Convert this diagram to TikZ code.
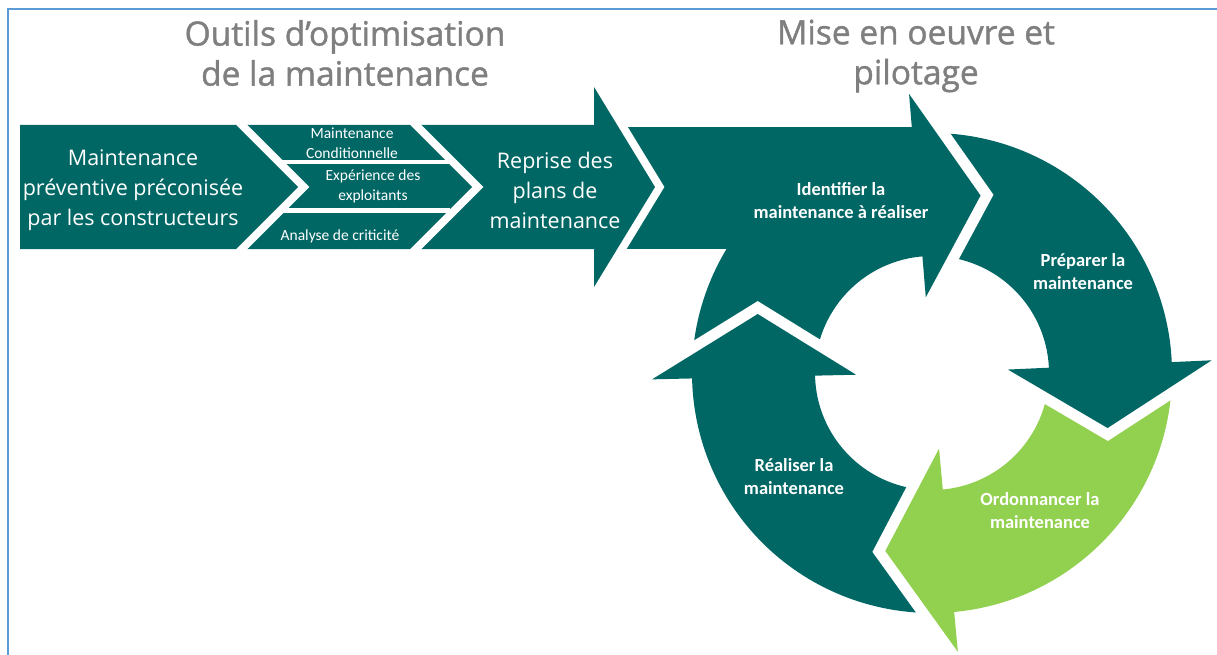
\documentclass[tikz,border=0pt]{standalone}
\usepackage{fontspec}
\setmainfont{Open Sans}
\newfontfamily\calibri{Carlito}
\newfontface\titlefont{Open Sans}[FakeBold=1.2]
\usepackage{xcolor}
\definecolor{tealdark}{RGB}{0,103,101}
\definecolor{greenlight}{RGB}{146,208,80}
\definecolor{titlegray}{RGB}{127,127,127}
\definecolor{frameblue}{RGB}{91,155,213}

\begin{document}
\begin{tikzpicture}[x=1pt, y=-1pt,
halo/.style={draw=white, line width=16pt},
ringhalo/.style={draw=white, line width=22pt},
title/.style={font=\titlefont\fontsize{33.5}{40}\selectfont, text=titlegray, align=center},
bigtext/.style={font=\fontsize{21.5}{30}\selectfont, text=white, align=center},
smalltext/.style={font=\calibri\fontsize{15.5}{20}\selectfont, text=white, align=center},
cycletext/.style={font=\calibri\bfseries\fontsize{18.5}{23}\selectfont, text=white, align=center}
]
\useasboundingbox (0,0) rectangle (1217,655);
\draw[frameblue, line width=2.5pt] (1217,9) -- (8,9) -- (8,655);

% titles
\node[title] (titleopt) at (345,53) {Outils d’optimisation\\de la maintenance};
\node[title] (titlemise) at (916,56) {Mise en oeuvre et\\pilotage};

% cycle bodies
\begin{scope}[shift={(932,373)}]
\foreach \a/\b/\col in {179.7/266.3/tealdark, 266.3/358.4/tealdark, 358.4/445.7/greenlight, 85.7/179.7/tealdark}
  \fill[\col] (\a:240) arc[start angle=\a, end angle=\b, radius=240] -- (\b:117) arc[start angle=\b, end angle=\a, radius=117] -- cycle;
\end{scope}
\fill[tealdark] (594,127) rectangle (914,249);

% cycle heads
\begin{scope}[shift={(932,373)}]
\foreach \b/\col in {265.3/tealdark, 357.4/tealdark, 84.7/greenlight, 178.7/tealdark} {
  \draw[ringhalo] (\b:280) -- ({\b+20}:184) -- (\b:76);
  \fill[\col] (\b:280) -- ({\b+20}:184) -- (\b:76) -- cycle;
}
\end{scope}

% chevrons
\draw[halo] (594,87) -- (655,187) -- (594,287);
\fill[tealdark] (412,125) -- (594,125) -- (594,87) -- (655,187) -- (594,287) -- (594,249) -- (412,249) -- cycle;
\draw[halo] (410,125) -- (472,187) -- (410,249);
\fill[tealdark] (236,125) -- (410,125) -- (472,187) -- (410,249) -- (236,249) -- cycle;
\draw[white, line width=4.5pt] (240,162) -- (450,162) (240,210.5) -- (450,210.5);
\draw[halo] (236,125) -- (298,187) -- (236,249);
\fill[tealdark] (20,125) -- (236,125) -- (298,187) -- (236,249) -- (20,249) -- cycle;

% texts
\node[bigtext] (preventive) at (133,190) {Maintenance\\préventive préconisée\\par les constructeurs};
\node[smalltext] (conditional) at (352,143) {Maintenance\\Conditionnelle};
\node[smalltext] (feedback) at (373,186) {Expérience des\\exploitants};
\node[smalltext] (criticality) at (340,236) {Analyse de criticité};
\node[bigtext] (reprise) at (555,190) {Reprise des\\plans de\\maintenance};
\node[cycletext] (identify) at (841,201) {Identifier la\\maintenance à réaliser};
\node[cycletext] (prepare) at (1083,272) {Préparer la\\maintenance};
\node[cycletext] (schedule) at (1040,511) {Ordonnancer la\\maintenance};
\node[cycletext] (perform) at (794,477) {Réaliser la\\maintenance};
\end{tikzpicture}
\end{document}
